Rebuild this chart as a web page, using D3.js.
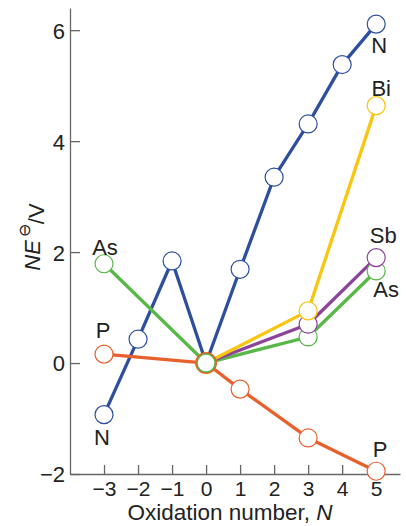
<!DOCTYPE html>
<html>
<head>
<meta charset="utf-8">
<script src="https://cdn.jsdelivr.net/npm/d3@7"></script>
<style>
  body { margin: 0; background: #fff; }
  svg { font-family: "Liberation Sans", Arial, sans-serif; }
</style>
</head>
<body>
<svg width="406" height="526"></svg>
<script>
// values
let nOx = [-3, -2, -1, 0, 1, 2, 3, 4, 5];
let nVal = [-0.93, 0.43, 1.84, 0, 1.69, 3.35, 4.31, 5.38, 6.11];
let pOx = [-3, 0, 1, 3, 5];
let pVal = [0.16, 0, -0.47, -1.35, -1.95];
let asOx = [-3, 0, 3, 5];
let asVal = [1.79, 0, 0.47, 1.66];
let sbOx = [0, 3, 5];
let sbVal = [0, 0.70, 1.9];
let biOx = [0, 3, 5];
let biVal = [0, 0.94, 4.64];
let xTicks = [-3, -2, -1, 0, 1, 2, 3, 4, 5];
let yTicks = [-2, 0, 2, 4, 6];

let series = [
    {name: "N", ox: nOx, val: nVal, color: "#2d4f9e"},
    {name: "P", ox: pOx, val: pVal, color: "#e8602c"},
    {name: "As", ox: asOx, val: asVal, color: "#57b847"},
    {name: "Sb", ox: sbOx, val: sbVal, color: "#8c449a"},
    {name: "Bi", ox: biOx, val: biVal, color: "#f8c611"}
];

let svg = d3.select("svg");
let x = d3.scaleLinear().domain([-4, 5.7]).range([70, 400]);
let y = d3.scaleLinear().domain([-2, 6.4]).range([474, 8]);
let font = "'Liberation Sans', Arial, sans-serif";

// axes
let xAxis = svg.append("g")
    .attr("transform", "translate(0," + y(-2) + ")")
    .call(d3.axisBottom(x).tickValues(xTicks).tickSizeInner(-9).tickSizeOuter(0).tickPadding(7));
let yAxis = svg.append("g")
    .attr("transform", "translate(" + x(-4) + ",0)")
    .call(d3.axisLeft(y).tickValues(yTicks).tickSizeInner(-10).tickSizeOuter(0).tickPadding(5));

[xAxis, yAxis].forEach(function (a) {
    a.attr("font-size", 21).attr("font-family", font);
    a.selectAll("path, line").attr("stroke", "#666").attr("stroke-width", 1.3);
    a.selectAll("text").attr("fill", "#222");
});
yAxis.attr("font-size", 22);
yAxis.selectAll("text").attr("dy", "0.36em");

svg.append("text")
    .attr("x", 230).attr("y", 520)
    .attr("text-anchor", "middle")
    .attr("font-size", 22.5).attr("fill", "#222")
    .html('Oxidation number, <tspan font-style="italic">N</tspan>');

let yt = svg.append("text")
    .attr("transform", "translate(40,237) rotate(-90)")
    .attr("text-anchor", "middle")
    .attr("font-size", 22).attr("fill", "#222");
yt.append("tspan").attr("font-style", "italic").text("NE");
yt.append("tspan").attr("dx", 3).attr("dy", "-0.6em").attr("font-size", 16).text("\u2296");
yt.append("tspan").attr("dy", "0.6em").text("/V");

// lines, then markers
let line = d3.line().x(function (d) { return x(d[0]); }).y(function (d) { return y(d[1]); });

series.forEach(function (s) {
    svg.append("path")
        .datum(d3.zip(s.ox, s.val))
        .attr("d", line)
        .attr("fill", "none")
        .attr("stroke", s.color)
        .attr("stroke-width", 3.3)
        .attr("stroke-linejoin", "round");
});

function drawMarkers(s, pts, sw) {
    svg.append("g").selectAll("circle")
        .data(pts)
        .join("circle")
        .attr("cx", function (d) { return x(d[0]); })
        .attr("cy", function (d) { return y(d[1]); })
        .attr("r", 9)
        .attr("fill", "#fff")
        .attr("stroke", s.color)
        .attr("stroke-width", sw);
}

series.forEach(function (s) {
    drawMarkers(s, d3.zip(s.ox, s.val).filter(function (d) { return d[0] !== 0; }), 1.2);
});
// the shared point at N = 0: P ring underneath, As ring on top
["N", "Sb", "Bi", "P", "As"].forEach(function (name) {
    let s = series.find(function (q) { return q.name === name; });
    let origin = d3.zip(s.ox, s.val).filter(function (d) { return d[0] === 0; });
    drawMarkers(s, origin, name === "P" ? 4 : 1.4);
});

// element labels at the ends of the lines
let labelPos = {
    "N": [[-2, 30], [3, 29]],
    "P": [[-1, -16], [4, -14]],
    "As": [[1, -9], [10, 26]],
    "Sb": [null, [7, -15]],
    "Bi": [null, [5, -10]]
};
series.forEach(function (s) {
    let ends = [0, s.ox.length - 1];
    ends.forEach(function (idx, k) {
        let off = labelPos[s.name][k];
        if (!off) return;
        svg.append("text")
            .attr("x", x(s.ox[idx]) + off[0])
            .attr("y", y(s.val[idx]) + off[1])
            .attr("text-anchor", "middle")
            .attr("font-size", 22)
            .attr("fill", "#222")
            .text(s.name);
    });
});
</script>
</body>
</html>
